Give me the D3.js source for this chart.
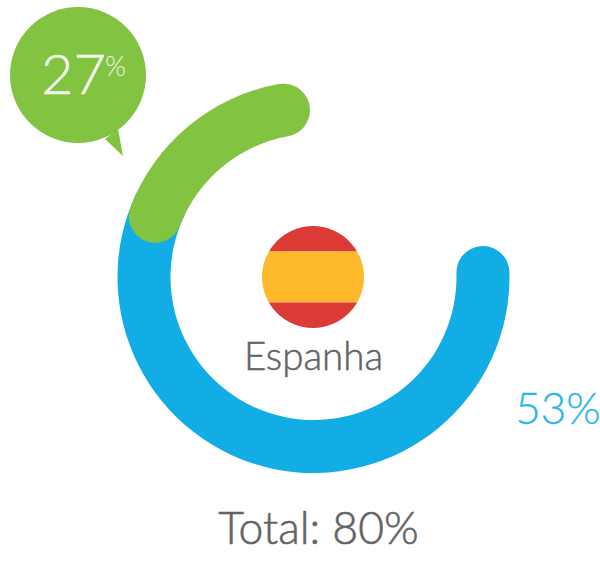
<!DOCTYPE html>
<html>
<head>
<meta charset="utf-8">
<style>
	html, body { margin: 0; padding: 0; background: #fff; }
	text { font-family: Lato, sans-serif; font-weight: 300; }
</style>
<script src="https://cdnjs.cloudflare.com/ajax/libs/d3/7.8.5/d3.min.js"></script>
</head>
<body>
<svg id="chart" width="600" height="570"></svg>
<script>
const country = 'Espanha'
const seriesNames = ['azul', 'verde']
const seriesValues = [53, 27]
const seriesColors = ['#12ade5', '#82c341']
const flagStripes = [1, 2, 1]
const flagColors = ['#dc3a35', '#feb82b', '#dc3a35']

const total = d3.sum(seriesValues)

const cx = 313.5
const cy = 277
const outerRadius = 196
const innerRadius = 143
const flagX = 313
const flagRadius = 51

// the arcs are not drawn to a common scale in the original, each has its own sweep
const rad = (deg) => deg * Math.PI / 180
const sweeps = [
	d3.scaleLinear().domain([0, seriesValues[0]]).range([rad(79.5), rad(304)]),
	d3.scaleLinear().domain([0, seriesValues[1]]).range([rad(282), rad(358.8)])
]

const svg = d3.select('#chart')

const arc = d3.arc()
	.innerRadius(innerRadius)
	.outerRadius(outerRadius)
	.cornerRadius((outerRadius - innerRadius) / 2)

svg.append('g')
	.attr('transform', `translate(${cx},${cy})`)
	.selectAll('path')
	.data(seriesValues)
	.join('path')
		.attr('class', (d, i) => 'arc ' + seriesNames[i])
		.attr('fill', (d, i) => seriesColors[i])
		.attr('d', (d, i) => arc({ startAngle: sweeps[i](0), endAngle: sweeps[i](d) }))

// flag, stripes clipped to a circle
svg.append('clipPath')
	.attr('id', 'flag-clip')
	.append('circle')
		.attr('cx', flagX)
		.attr('cy', cy)
		.attr('r', flagRadius)

const stripeEnds = d3.cumsum(flagStripes)
const flagY = d3.scaleLinear()
	.domain([0, d3.sum(flagStripes)])
	.range([cy - flagRadius, cy + flagRadius])

svg.append('g')
	.attr('clip-path', 'url(#flag-clip)')
	.selectAll('rect')
	.data(flagStripes)
	.join('rect')
		.attr('x', flagX - flagRadius)
		.attr('width', flagRadius * 2)
		.attr('y', (d, i) => flagY(stripeEnds[i] - d))
		.attr('height', (d) => flagY(d) - flagY(0))
		.attr('fill', (d, i) => flagColors[i])

// speech bubble
const bubbleX = 78
const bubbleY = 75
const bubbleRadius = 68

const tail = d3.path()
tail.moveTo(bubbleX + 27, bubbleY + 64)
tail.lineTo(bubbleX + 45, bubbleY + 81)
tail.lineTo(bubbleX + 40, bubbleY + 54)
tail.closePath()

const bubbleGroup = svg.append('g')
bubbleGroup.append('circle')
	.attr('cx', bubbleX)
	.attr('cy', bubbleY)
	.attr('r', bubbleRadius)
	.attr('fill', seriesColors[1])
bubbleGroup.append('path')
	.attr('d', tail.toString())
	.attr('fill', seriesColors[1])

bubbleGroup.append('text')
	.attr('x', 41)
	.attr('y', 94)
	.attr('font-size', 56)
	.attr('stroke', '#f1f7e8')
	.attr('stroke-width', 0.6)
	.attr('fill', '#f1f7e8')
	.text(seriesValues[1])
bubbleGroup.append('text')
	.attr('x', 105)
	.attr('y', 76)
	.attr('font-size', 27)
	.attr('fill', '#f1f7e8')
	.text('%')

// light weight is too thin next to the original, a hairline stroke thickens it
const label = (x, y, size, stroke, color, value) => svg.append('text')
	.attr('x', x)
	.attr('y', y)
	.attr('font-size', size)
	.attr('text-anchor', 'middle')
	.attr('fill', color)
	.attr('stroke', color)
	.attr('stroke-width', stroke)
	.text(value)

label(313.5, 370, 38.5, 0.5, '#636466', country)
label(558, 424, 44, 0.3, '#29b5e8', seriesValues[0] + '%')
label(318.5, 544, 44.5, 0.6, '#636466', 'Total: ' + total + '%')
</script>
</body>
</html>
